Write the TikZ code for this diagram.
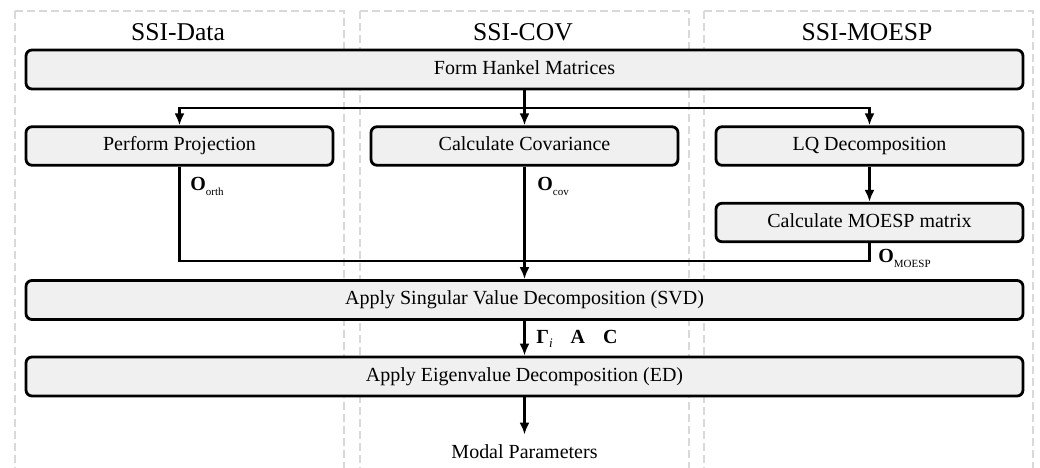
\documentclass[tikz,border=0pt]{standalone}
\usepackage{fontspec}
\setmainfont{Liberation Serif}
\usetikzlibrary{arrows.meta}
\definecolor{boxfill}{HTML}{F0F0F0}
\definecolor{dashgray}{HTML}{D9D9D9}
\tikzset{
  colbox/.style={draw=dashgray, line width=1pt, dash pattern=on 4pt off 2pt},
  coltitle/.style={font=\fontsize{12.8}{14}\selectfont, inner sep=0pt},
  stepbox/.style={draw=black, fill=boxfill, line width=1.4pt, rounded corners=3pt,
    inner sep=0pt, font=\fontsize{10}{12}\selectfont, text height=0.68em, text depth=0.22em},
  widebox/.style={stepbox, minimum width=498.5pt, minimum height=19.5pt},
  narrowbox/.style={stepbox, minimum width=153.5pt, minimum height=19.25pt},
  conn/.style={draw=black, line width=1.2pt},
  arr/.style={conn, -{Latex[length=6pt,width=5pt]}},
  lbl/.style={font=\fontsize{10}{12}\selectfont, inner sep=0pt, anchor=west},
}
\newcommand{\subtxt}[1]{\raisebox{-0.55ex}{\fontsize{5.5}{6}\selectfont #1}}
\begin{document}
\begin{tikzpicture}[x=0.5pt, y=-0.5pt]
\useasboundingbox (0,0) rectangle (1040,467);
\clip (0,0) rectangle (1040,467);
% columns
\draw[colbox] (15,11) rectangle (344,490);
\draw[colbox] (360,11) rectangle (689,490);
\draw[colbox] (704,11) rectangle (1033,490);
\node[coltitle] (t1) at (178,32) {SSI-Data};
\node[coltitle] (t2) at (523,32) {SSI-COV};
\node[coltitle] (t3) at (867,32) {SSI-MOESP};
% boxes
\node[widebox] (hankel) at (524.5,69.5) {Form Hankel Matrices};
\node[narrowbox] (proj) at (179.5,146) {Perform Projection};
\node[narrowbox] (cov) at (524.5,146) {Calculate Covariance};
\node[narrowbox] (lq) at (869.5,146) {LQ Decomposition};
\node[narrowbox] (moesp) at (869.5,222.5) {Calculate MOESP matrix};
\node[widebox] (svd) at (524.5,300) {Apply Singular Value Decomposition (SVD)};
\node[widebox] (ed) at (524.5,376.5) {Apply Eigenvalue Decomposition (ED)};
\node[font=\fontsize{10}{12}\selectfont, inner sep=0pt] (modal) at (524.5,452) {Modal Parameters};
% connectors
\coordinate (split) at (524.5,108);
\coordinate (join) at (524.5,261);
\draw[arr] (hankel) -- (cov);
\draw[arr] (split) -| (proj.north);
\draw[arr] (split) -| (lq.north);
\draw[conn] (proj.south) |- (join);
\draw[arr] (cov) -- (svd);
\draw[arr] (lq) -- (moesp);
\draw[conn] (moesp.south) |- (join);
\draw[arr] (svd) -- (ed);
\draw[arr, shorten >=5pt] (ed) -- (modal);
% labels
\node[lbl] (lorth) at (190,186) {\textbf{O}\subtxt{orth}};
\node[lbl] (lcov) at (537,186) {\textbf{O}\subtxt{cov}};
\node[lbl] (lmoesp) at (878,258) {\textbf{O}\subtxt{MOESP}};
\node[lbl] (lgam) at (536,339) {\textbf{Γ}\raisebox{-0.5ex}{\fontsize{6.5}{7}\selectfont\itshape i}\hspace{9pt}\textbf{A}\hspace{9pt}\textbf{C}};
\end{tikzpicture}
\end{document}
